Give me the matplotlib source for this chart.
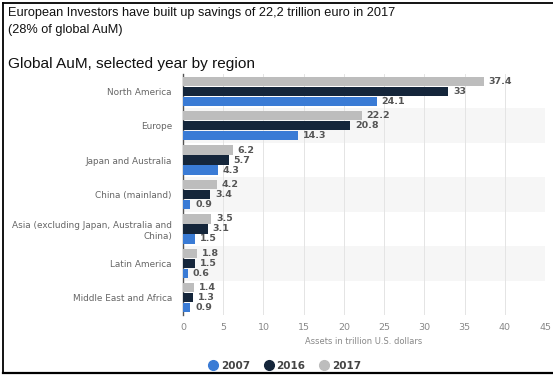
import matplotlib
matplotlib.use("Agg")
import matplotlib.pyplot as plt
from matplotlib.lines import Line2D
import numpy as np

regions = [
    "North America",
    "Europe",
    "Japan and Australia",
    "China (mainland)",
    "Asia (excluding Japan, Australia and\nChina)",
    "Latin America",
    "Middle East and Africa",
]
years = ["2007", "2016", "2017"]
aum_2007 = [24.1, 14.3, 4.3, 0.9, 1.5, 0.6, 0.9]
aum_2016 = [33, 20.8, 5.7, 3.4, 3.1, 1.5, 1.3]
aum_2017 = [37.4, 22.2, 6.2, 4.2, 3.5, 1.8, 1.4]
x_ticks = [0, 5, 10, 15, 20, 25, 30, 35, 40, 45]

colors = {"2007": "#3a7bd5", "2016": "#15263b", "2017": "#bdbdbd"}
series = {"2007": aum_2007, "2016": aum_2016, "2017": aum_2017}
offsets = {"2017": -0.29, "2016": 0.0, "2007": 0.29}

W, H = 553, 376
fig = plt.figure(figsize=(W / 100, H / 100), dpi=100)
ax = fig.add_axes([183 / W, 1 - 315 / H, (545 - 183) / W, (315 - 74) / H])

n = len(regions)
y = np.arange(n)
# alternating row bands
for i in range(n):
    if i % 2 == 1:
        ax.axhspan(i - 0.5, i + 0.5, color="#f6f6f6", zorder=0, lw=0)

bar_h = 0.27
for yr in years:
    vals = series[yr]
    pos = y + offsets[yr]
    ax.barh(pos, vals, height=bar_h, color=colors[yr], zorder=3)
    for p, v in zip(pos, vals):
        ax.text(v + 0.6, p, f"{v:g}", va="center", ha="left",
                fontsize=6.8, fontweight="bold", color="#555555", zorder=4)

ax.set_ylim(n - 0.5, -0.5)
ax.set_xlim(0, 45)
ax.set_yticks(y)
ax.set_yticklabels(regions, fontsize=6.4, color="#666666", linespacing=1.3)
ax.set_xticks(x_ticks)
ax.set_xticklabels([str(t) for t in x_ticks], fontsize=6.8, color="#888888")
ax.tick_params(axis="x", length=0, pad=6)
ax.tick_params(axis="y", length=0, pad=8)
ax.xaxis.grid(True, color="#e4e4e4", lw=0.7, zorder=1)
ax.set_axisbelow(True)
for s in ["top", "right", "bottom"]:
    ax.spines[s].set_visible(False)
ax.spines["left"].set_color("#555555")
ax.spines["left"].set_linewidth(1.0)
ax.set_facecolor("none")
ax.set_xlabel("Assets in trillion U.S. dollars", fontsize=6, color="#888888", labelpad=3)

# headings
fig.text(8 / W, 1 - 13 / H, "European Investors have built up savings of 22,2 trillion euro in 2017",
         fontsize=9.2, family="Liberation Sans", va="center", ha="left", color="#111111")
fig.text(8 / W, 1 - 30 / H, "(28% of global AuM)",
         fontsize=9.2, family="Liberation Sans", va="center", ha="left", color="#111111")
fig.text(8 / W, 1 - 64 / H, "Global AuM, selected year by region",
         fontsize=11.1, family="Liberation Sans", va="center", ha="left", color="#111111")

# legend
handles = [Line2D([0], [0], marker="o", ls="none", markersize=7,
                  markerfacecolor=colors[yr], markeredgecolor=colors[yr]) for yr in years]
leg = fig.legend(handles, years, loc="center", bbox_to_anchor=(284 / W, 1 - 366 / H),
                 ncol=3, frameon=False, fontsize=7.5, handletextpad=0.15,
                 columnspacing=1.2, borderaxespad=0, handlelength=1.2)
for t in leg.get_texts():
    t.set_color("#444444")
    t.set_fontweight("bold")

# frame around the figure
fig.add_artist(Line2D([2.5 / W, 2.5 / W], [1 - 2.5 / H, 1 - 372.5 / H], color="black", lw=1.3))
fig.add_artist(Line2D([2.5 / W, 1], [1 - 2.5 / H, 1 - 2.5 / H], color="black", lw=1.3))
fig.add_artist(Line2D([2.5 / W, 1], [1 - 372.5 / H, 1 - 372.5 / H], color="black", lw=1.6))

fig.savefig("out.png", dpi=100)
